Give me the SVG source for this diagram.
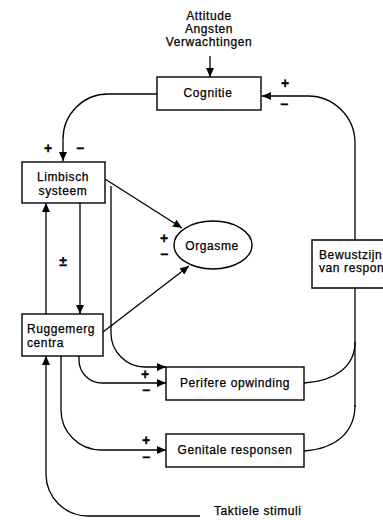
<svg xmlns="http://www.w3.org/2000/svg" width="383" height="520" viewBox="0 0 383 520">
<style>
text{font-family:"Liberation Sans",Arial,sans-serif;font-size:12px;fill:#000;stroke:#000;stroke-width:0.25;letter-spacing:0.6px}
.c{text-anchor:middle}
.box{fill:#fff;stroke:#000;stroke-width:1.4}
.ln{fill:none;stroke:#000;stroke-width:1.3}
.sg{font-size:14px;font-weight:bold;text-anchor:middle;letter-spacing:0}
</style>
<defs>
<marker id="ah" markerUnits="userSpaceOnUse" markerWidth="9" markerHeight="8" refX="9" refY="4" orient="auto">
<path d="M0,0 L9,4 L0,8 z" fill="#000"/>
</marker>
</defs>
<g id="inputs">
<text class="c" x="209" y="20">Attitude</text>
<text class="c" x="209" y="33">Angsten</text>
<text class="c" x="209" y="46">Verwachtingen</text>
</g>
<g id="connectors">
<path class="ln" d="M210,56 V77" marker-end="url(#ah)"/>
<path class="ln" d="M355,240 V143 A47,47 0 0 0 308,96 H262" marker-end="url(#ah)"/>
<path class="ln" d="M157,94 H108 A45,45 0 0 0 63,139 V161" marker-end="url(#ah)"/>
<path class="ln" d="M105,179 L182,228" marker-end="url(#ah)"/>
<path class="ln" d="M103,332 L189,266" marker-end="url(#ah)"/>
<path class="ln" d="M46,314 V203" marker-end="url(#ah)"/>
<path class="ln" d="M80,203 V314" marker-end="url(#ah)"/>
<path class="ln" d="M111,186 V333 A34,34 0 0 0 145,367 H166" marker-end="url(#ah)"/>
<path class="ln" d="M79,356 V360 A23,23 0 0 0 102,383 H166" marker-end="url(#ah)"/>
<path class="ln" d="M61,356 V410 A40,40 0 0 0 101,450 H166" marker-end="url(#ah)"/>
<path class="ln" d="M355,288 V407"/>
<path class="ln" d="M304,383 C336,381 355,366 355,342"/>
<path class="ln" d="M304,451 C336,449 355,432 355,405"/>
<path class="ln" d="M200,516 H88 A42,42 0 0 1 46,474 V356" marker-end="url(#ah)"/>
</g>
<g id="signs">
<text class="sg" x="285" y="88">+</text>
<text class="sg" x="284" y="109">−</text>
<text class="sg" x="48" y="153">+</text>
<text class="sg" x="80" y="153">−</text>
<text class="sg" x="63" y="266">±</text>
<text class="sg" x="164" y="243">+</text>
<text class="sg" x="164" y="259">−</text>
<text class="sg" x="145" y="379">+</text>
<text class="sg" x="146" y="395">−</text>
<text class="sg" x="146" y="445">+</text>
<text class="sg" x="146" y="462">−</text>
</g>
<g id="cognitie">
<rect class="box" x="157" y="77" width="104" height="33"/>
<text class="c" x="208" y="97">Cognitie</text>
</g>
<g id="limbisch">
<rect class="box" x="22" y="162" width="83" height="41"/>
<text class="c" x="63" y="181">Limbisch</text>
<text class="c" x="63" y="195">systeem</text>
</g>
<g id="ruggemerg">
<rect class="box" x="22" y="314" width="81" height="42"/>
<text x="27" y="333">Ruggemerg</text>
<text x="27" y="347">centra</text>
</g>
<g id="orgasme">
<ellipse class="box" cx="213" cy="245" rx="39" ry="24"/>
<text class="c" x="212" y="250">Orgasme</text>
</g>
<g id="bewustzijn">
<path class="box" d="M383,240 H312 V288 H383"/>
<text x="319" y="259">Bewustzijn</text>
<text x="319" y="272">van respon</text>
</g>
<g id="perifere">
<rect class="box" x="166" y="367" width="138" height="33"/>
<text class="c" x="235" y="387">Perifere opwinding</text>
</g>
<g id="genitale">
<rect class="box" x="166" y="434" width="138" height="33"/>
<text class="c" x="235" y="454">Genitale responsen</text>
</g>
<g id="tactiel">
<text x="214" y="515">Taktiele stimuli</text>
</g>
</svg>
